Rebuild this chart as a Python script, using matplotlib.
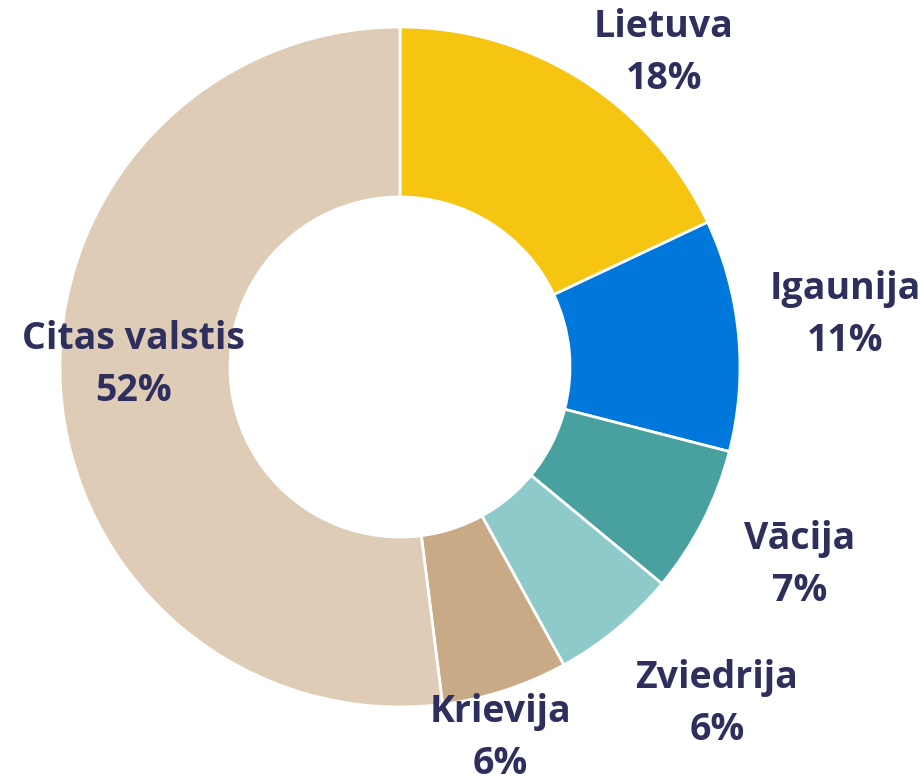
import matplotlib.pyplot as plt

valstis = ["Lietuva", "Igaunija", "Vācija", "Zviedrija", "Krievija", "Citas valstis"]
procenti = [18, 11, 7, 6, 6, 52]
krasas = ["#F5C512", "#0077DB", "#48A09F", "#8ECACA", "#C9AA87", "#DFCCB6"]

# label centres (pixels from donut centre)
label_pos = [(264, 314), (445, 52), (400, -198), (317, -337), (100, -371), (-267, 2)]

fig = plt.figure(figsize=(9.22, 7.82), dpi=100)
ax = fig.add_axes([0, 0, 1, 1])

ax.pie(procenti, colors=krasas, startangle=90, counterclock=False,
       radius=340, explode=[0, 0, 0, 0, 0, 0.012],
       wedgeprops=dict(width=170, edgecolor="white", linewidth=2))

for name, p, (x, y) in zip(valstis, procenti, label_pos):
    ax.text(x, y, f"{name}\n{p}%", ha="center", va="center", fontsize=27,
            fontweight="bold", family="Open Sans", color="#2F2F5E",
            linespacing=1.45)

# pie resets the limits, so set them afterwards
ax.set_xlim(-400, 522)
ax.set_ylim(-415, 367)
ax.set_aspect("equal")
ax.axis("off")

fig.savefig("out.png", dpi=100)
